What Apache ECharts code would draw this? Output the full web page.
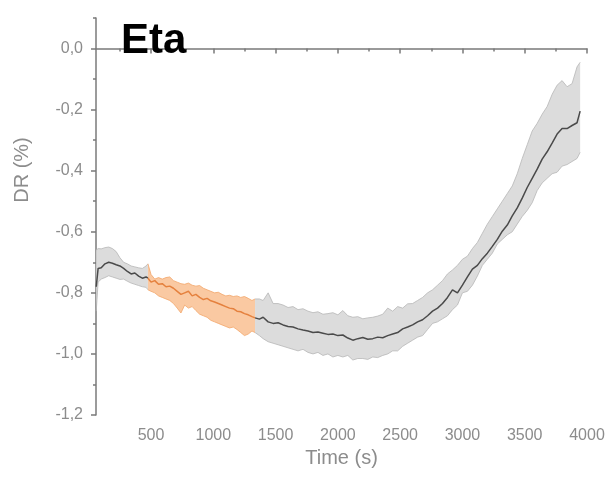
<!DOCTYPE html>
<html>
<head>
<meta charset="utf-8">
<script src="https://cdn.jsdelivr.net/npm/echarts@6/dist/echarts.min.js"></script>
<style>html,body{margin:0;padding:0;background:#fff}#c{width:611px;height:484px}</style>
</head>
<body>
<div id="c"></div>
<script>
// Time (s)
const timeS = [
  60, 75, 100, 130, 160, 190, 220, 250, 280, 310, 340, 370, 400, 430, 460,
  475, 500, 530, 560, 590, 620, 650, 680, 710, 740, 770, 800, 830, 860, 890, 920, 950, 980,
  1010, 1040, 1070, 1100, 1130, 1160, 1190, 1220, 1250, 1280, 1310, 1335,
  1370, 1400, 1440, 1480, 1520, 1560, 1600, 1640, 1680, 1720, 1760, 1800, 1840, 1880, 1920, 1960,
  2000, 2040, 2080, 2120, 2160, 2200, 2240, 2280, 2320, 2360, 2400, 2440, 2480, 2520, 2560,
  2600, 2640, 2680, 2720, 2760, 2800, 2840, 2880, 2920, 2960, 3000, 3040, 3080, 3120, 3160,
  3200, 3240, 3280, 3320, 3360, 3400, 3440, 3480, 3520, 3560, 3600, 3640, 3680, 3720, 3760,
  3800, 3840, 3880, 3920, 3945
];
// mean DR (%)
const meanDR = [
  -0.78, -0.72, -0.718, -0.705, -0.70, -0.703, -0.708, -0.712, -0.72, -0.73, -0.738, -0.735, -0.745, -0.752, -0.748,
  -0.752, -0.765, -0.76, -0.772, -0.77, -0.78, -0.778, -0.785, -0.795, -0.805, -0.80, -0.795, -0.81, -0.805, -0.815, -0.822, -0.818, -0.826,
  -0.83, -0.835, -0.84, -0.845, -0.85, -0.852, -0.86, -0.862, -0.868, -0.872, -0.878, -0.882,
  -0.886, -0.88, -0.895, -0.90, -0.898, -0.905, -0.91, -0.912, -0.918, -0.922, -0.925, -0.93, -0.928, -0.932, -0.936, -0.935,
  -0.94, -0.938, -0.948, -0.955, -0.95, -0.946, -0.952, -0.95, -0.945, -0.947, -0.94, -0.935, -0.93, -0.918, -0.912,
  -0.905, -0.895, -0.888, -0.875, -0.86, -0.85, -0.835, -0.815, -0.79, -0.80, -0.775, -0.748, -0.722, -0.71, -0.688,
  -0.67, -0.648, -0.625, -0.598, -0.578, -0.548, -0.522, -0.49, -0.455, -0.425, -0.395, -0.362, -0.338, -0.31, -0.28,
  -0.262, -0.262, -0.252, -0.243, -0.205
];
// upper bound of the band
const upperDR = [
  -0.66, -0.655, -0.656, -0.652, -0.65, -0.655, -0.665, -0.685, -0.70, -0.705, -0.712, -0.715, -0.718, -0.72, -0.712,
  -0.705, -0.74, -0.755, -0.75, -0.755, -0.75, -0.748, -0.76, -0.765, -0.77, -0.772, -0.768, -0.775, -0.778, -0.776, -0.785, -0.79, -0.795,
  -0.80, -0.798, -0.805, -0.81, -0.808, -0.812, -0.81, -0.815, -0.812, -0.818, -0.825, -0.82,
  -0.82, -0.825, -0.80, -0.835, -0.835, -0.84, -0.848, -0.845, -0.855, -0.852, -0.86, -0.865, -0.862, -0.87, -0.868, -0.865,
  -0.872, -0.858, -0.875, -0.88, -0.878, -0.885, -0.882, -0.88, -0.876, -0.87, -0.85, -0.86, -0.845, -0.85, -0.836,
  -0.835, -0.825, -0.815, -0.80, -0.79, -0.775, -0.76, -0.738, -0.725, -0.71, -0.69, -0.68, -0.655, -0.635, -0.605,
  -0.575, -0.55, -0.525, -0.50, -0.475, -0.45, -0.41, -0.36, -0.315, -0.27, -0.245, -0.215, -0.19, -0.15, -0.12,
  -0.105, -0.125, -0.115, -0.06, -0.045
];
// lower bound of the band
const lowerDR = [
  -0.86, -0.765, -0.755, -0.75, -0.744, -0.748, -0.752, -0.756, -0.755, -0.762, -0.768, -0.772, -0.776, -0.78, -0.782,
  -0.79, -0.795, -0.80, -0.81, -0.815, -0.82, -0.825, -0.835, -0.85, -0.866, -0.84, -0.85, -0.845, -0.858, -0.87, -0.875, -0.88, -0.89,
  -0.895, -0.90, -0.905, -0.91, -0.915, -0.912, -0.92, -0.93, -0.94, -0.935, -0.925, -0.93,
  -0.94, -0.95, -0.96, -0.965, -0.97, -0.975, -0.98, -0.985, -0.99, -0.985, -0.995, -1.0, -0.995, -1.005, -1.0, -1.01,
  -1.005, -1.01, -1.005, -1.02, -1.015, -1.015, -1.018, -1.01, -1.012, -1.005, -1.0, -0.99, -0.99, -0.975, -0.965,
  -0.955, -0.945, -0.94, -0.92, -0.90, -0.895, -0.885, -0.875, -0.855, -0.84, -0.80, -0.795, -0.775, -0.745, -0.71,
  -0.69, -0.67, -0.64, -0.625, -0.61, -0.60, -0.575, -0.55, -0.53, -0.505, -0.465, -0.44, -0.425, -0.41, -0.405,
  -0.385, -0.38, -0.37, -0.36, -0.34
];
const highlightRange = [475, 1335];
const xLabelValues = [500, 1000, 1500, 2000, 2500, 3000, 3500, 4000];
const xMinorTickValues = [250, 750, 1250, 1750, 2250, 2750, 3250, 3750];
const yLabelValues = [-1.2, -1.0, -0.8, -0.6, -0.4, -0.2, 0.0];
const yMinorTickValues = [-1.1, -0.9, -0.7, -0.5, -0.3, -0.1, 0.1];
const xRange = [58, 4000];
const yRange = [-1.2, 0.1];

function segIdx(lo, hi) {
  const r = [];
  timeS.forEach((t, i) => { if (t >= lo && t <= hi) r.push(i); });
  return r;
}
const gray = { fill: '#dcdcdc', edge: '#b6b6b6', line: '#4a4a4a' };
const orange = { fill: '#fac9a2', edge: '#f2a66a', line: '#e5813e' };
const segments = [
  Object.assign({ idx: segIdx(timeS[0], highlightRange[0]) }, gray),
  Object.assign({ idx: segIdx(highlightRange[0], highlightRange[1]) }, orange),
  Object.assign({ idx: segIdx(highlightRange[1], timeS[timeS.length - 1]) }, gray)
];
const series = [];
segments.forEach((s) => {
  const bandData = s.idx.map(i => [timeS[i], lowerDR[i], upperDR[i]]);
  series.push({
    type: 'custom', silent: true, z: 2,
    encode: { x: 0, y: [1, 2] },
    data: bandData,
    renderItem: function (params, api) {
      if (params.dataIndex !== 0) return null;
      const up = bandData.map(d => api.coord([d[0], d[2]]));
      const lo = bandData.map(d => api.coord([d[0], d[1]]));
      const poly = up.concat(lo.slice().reverse());
      return {
        type: 'group',
        children: [
          { type: 'polygon', shape: { points: poly }, style: { fill: s.fill, stroke: null } },
          { type: 'polyline', shape: { points: up }, style: { stroke: s.edge, lineWidth: 0.8, fill: null } },
          { type: 'polyline', shape: { points: lo }, style: { stroke: s.edge, lineWidth: 0.8, fill: null } }
        ]
      };
    }
  });
});
segments.forEach((s) => {
  series.push({
    type: 'line', symbol: 'none', silent: true, z: 3,
    data: s.idx.map(i => [timeS[i], meanDR[i]]),
    lineStyle: { color: s.line, width: 1.5 }
  });
});

const axisColor = '#7a7a7a';
const labelColor = '#8c8c8c';
const font = 'Liberation Sans';
const chart = echarts.init(document.getElementById('c'));
chart.setOption({
  animation: false,
  backgroundColor: '#fff',
  title: {
    text: 'Eta', left: 121, top: 20, padding: 0,
    textStyle: { fontFamily: font, fontWeight: 'bold', fontSize: 42, color: '#000' }
  },
  grid: { left: 96, right: 24, top: 18, bottom: 69 },
  xAxis: [{
    type: 'value', min: xRange[0], max: xRange[1],
    name: 'Time (s)', nameLocation: 'middle', nameGap: 32,
    nameTextStyle: { fontFamily: font, fontSize: 20, color: labelColor },
    axisLine: { show: true, lineStyle: { color: axisColor, width: 1.5 } },
    axisTick: { show: true, inside: false, length: 5, lineStyle: { color: axisColor, width: 1.5 }, customValues: xLabelValues },
    axisLabel: { customValues: xLabelValues, margin: 13, fontFamily: font, fontSize: 16, color: labelColor, formatter: v => String(v) },
    splitLine: { show: false }
  }, {
    type: 'value', min: xRange[0], max: xRange[1], position: 'bottom',
    axisLine: { show: false },
    axisTick: { show: true, inside: false, length: 3, lineStyle: { color: axisColor, width: 1.5 }, customValues: xMinorTickValues },
    axisLabel: { show: false },
    splitLine: { show: false }
  }],
  yAxis: [{
    type: 'value', min: yRange[0], max: yRange[1],
    axisLine: { show: true, lineStyle: { color: axisColor, width: 1.5 } },
    axisTick: { show: true, inside: false, length: 5, lineStyle: { color: axisColor, width: 1.5 }, customValues: yLabelValues },
    axisLabel: {
      customValues: yLabelValues, margin: 13, fontFamily: font, fontSize: 16, color: labelColor,
      formatter: v => v.toFixed(1).replace('.', ',')
    },
    splitLine: { show: false }
  }, {
    type: 'value', min: yRange[0], max: yRange[1], position: 'left',
    axisLine: { show: false },
    axisTick: { show: true, inside: false, length: 3, lineStyle: { color: axisColor, width: 1.5 }, customValues: yMinorTickValues },
    axisLabel: { show: false },
    splitLine: { show: false }
  }],
  graphic: [{
    type: 'text', x: 22, y: 170, rotation: Math.PI / 2,
    style: { text: 'DR (%)', fill: labelColor, font: '20px "Liberation Sans"', align: 'center', verticalAlign: 'middle' }
  }],
  series: series
});
</script>
</body>
</html>
